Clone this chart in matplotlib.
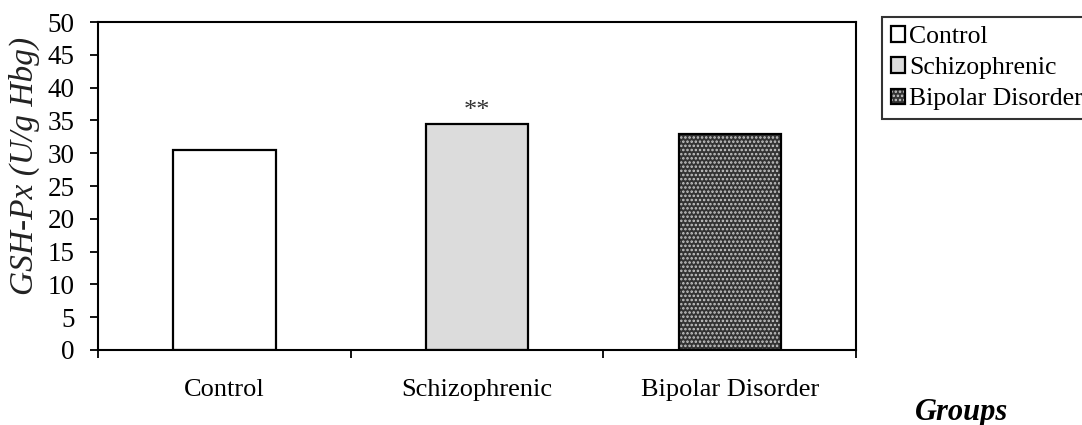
import matplotlib.pyplot as plt
import numpy as np

groups = ["Control", "Schizophrenic", "Bipolar Disorder"]
gshpx = [30.5, 34.5, 32.9]
y_ticks = [0, 5, 10, 15, 20, 25, 30, 35, 40, 45, 50]

plt.rcParams['font.family'] = ['Liberation Serif', 'DejaVu Serif']
plt.rcParams['hatch.linewidth'] = 1.2

fig = plt.figure(figsize=(10.82, 4.25), dpi=100)
ax = fig.add_axes([0.0906, 0.1765, 0.7006, 0.7717])

x = np.arange(len(groups))
faces = ['white', '#dcdcdc', '#333333']
dots = ['white', '#dcdcdc', '#c8c8c8']
hatches = [None, None, '....']

pattern = ax.bar(x, gshpx, 0.405, color=faces, edgecolor=dots, linewidth=0)
for bar, h in zip(pattern, hatches):
    if h:
        bar.set_hatch(h)
outline = ax.bar(x, gshpx, 0.405, fill=False, edgecolor='black', linewidth=1.6)

# significance mark over schizophrenic group
ax.annotate("**", (x[1], gshpx[1]), xytext=(0, 1), textcoords='offset points',
            ha='center', va='bottom', fontsize=19, color='#333333')

ax.set_xlim(-0.5, len(groups) - 0.5)
ax.set_ylim(0, 50)
ax.set_yticks(y_ticks)
ax.tick_params(axis='y', labelsize=19.5, length=6, width=1.3, pad=11, direction='out')

ax.set_xticks(np.arange(len(groups) + 1) - 0.5)
ax.set_xticklabels([])
ax.set_xticks(x, minor=True)
ax.set_xticklabels(groups, minor=True)
ax.tick_params(axis='x', which='major', length=6, width=1.3, direction='out')
ax.tick_params(axis='x', which='minor', length=0, labelsize=19, pad=21)

for s in ax.spines.values():
    s.set_linewidth(1.5)

ax.set_ylabel("GSH-Px (U/g Hbg)", fontsize=24, style='italic', color='#222222')
ax.yaxis.set_label_coords(-0.076, 0.56)

handles = [(p, o) for p, o in zip(pattern, outline)]
leg = fig.legend(handles, groups, loc='upper left', bbox_to_anchor=(0.815, 0.96),
                 fontsize=18.5, frameon=True, fancybox=False, edgecolor='black',
                 handlelength=0.55, handleheight=0.55, handletextpad=0.15,
                 labelspacing=0.36, borderpad=0.35, borderaxespad=0)
leg.get_frame().set_linewidth(1.5)

fig.text(0.889, 0.03, "Groups", fontsize=22, style='italic', weight='bold',
         ha='center', va='center')

fig.savefig("out.png", dpi=100)
